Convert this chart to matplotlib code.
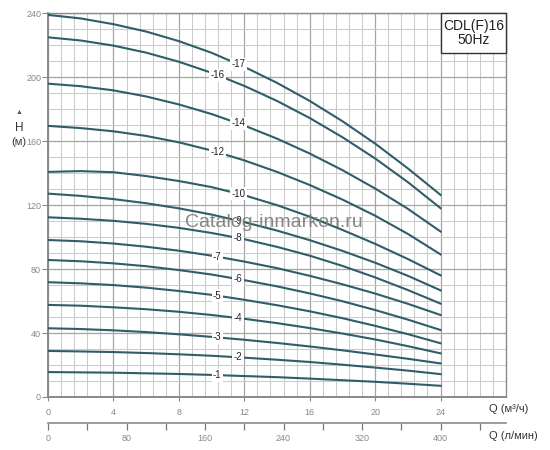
import numpy as np
import matplotlib
matplotlib.use("Agg")
import matplotlib.pyplot as plt
from matplotlib.ticker import MultipleLocator
from matplotlib.patches import Rectangle

plt.rcParams['font.family'] = ['Liberation Sans', 'DejaVu Sans']

# flow points (m3/h) where the curves were read
q = [0, 2, 4, 6, 8, 10, 12, 14, 16, 18, 20, 22, 24]

# head (m) per number of stages
h1 = [15.6, 15.4, 15.2, 14.8, 14.4, 13.8, 13.1, 12.4, 11.5, 10.5, 9.5, 8.3, 7.0]
h2 = [28.8, 28.5, 28.1, 27.5, 26.7, 25.8, 24.6, 23.3, 21.9, 20.2, 18.4, 16.5, 14.3]
h3 = [43.0, 42.5, 41.7, 40.6, 39.2, 37.6, 35.8, 33.8, 31.6, 29.2, 26.6, 23.9, 21.0]
h4 = [57.6, 57.1, 56.1, 54.9, 53.3, 51.3, 48.9, 46.2, 43.1, 39.7, 36.0, 31.8, 27.3]
h5 = [71.8, 71.1, 70.0, 68.4, 66.3, 63.9, 60.8, 57.4, 53.6, 49.3, 44.5, 39.3, 33.6]
h6 = [85.7, 84.9, 83.6, 81.8, 79.4, 76.6, 73.1, 69.2, 64.8, 59.9, 54.4, 48.4, 41.9]
h7 = [98.2, 97.4, 96.0, 94.0, 91.5, 88.4, 84.7, 80.6, 75.8, 70.5, 64.7, 58.3, 51.3]
h8 = [112.4, 111.5, 110.2, 108.3, 105.8, 102.6, 98.7, 93.9, 88.4, 82.0, 74.8, 66.9, 58.4]
h9 = [127.2, 125.8, 123.8, 121.2, 118.0, 114.1, 109.4, 104.1, 98.1, 91.4, 84.0, 75.8, 66.7]
h10 = [140.8, 141.3, 140.6, 138.2, 135.1, 131.3, 126.2, 120.0, 112.8, 104.5, 95.8, 86.3, 76.1]
h12 = [169.6, 168.2, 166.2, 163.3, 159.3, 154.2, 148.0, 140.8, 132.6, 123.5, 113.4, 102.0, 89.2]
h14 = [196.0, 194.4, 191.8, 188.0, 183.0, 177.0, 169.8, 161.6, 152.3, 141.9, 130.4, 117.7, 103.5]
h16 = [225.0, 223.0, 219.8, 215.4, 209.7, 202.8, 194.6, 185.2, 174.5, 162.5, 149.2, 134.4, 118.1]
h17 = [239.0, 236.8, 233.2, 228.6, 222.6, 215.3, 206.5, 196.5, 185.2, 172.5, 158.5, 143.0, 126.4]

stages = [1, 2, 3, 4, 5, 6, 7, 8, 9, 10, 12, 14, 16, 17]
heads = [h1, h2, h3, h4, h5, h6, h7, h8, h9, h10, h12, h14, h16, h17]
label_x = [10.35, 11.63, 10.35, 11.63, 10.35, 11.63, 10.35, 11.63, 11.63, 11.63,
           10.35, 11.63, 10.35, 11.63]

x_ticks = [0, 4, 8, 12, 16, 20, 24]
y_ticks = [0, 40, 80, 120, 160, 200, 240]
lmin_ticks = list(range(0, 441, 40))
lmin_labels = [str(t) if t % 80 == 0 and t <= 400 else "" for t in lmin_ticks]

line_color = '#2f5d69'
grid_minor = '#cbcbcb'
grid_major = '#a5a5a5'

fig = plt.figure(figsize=(5.5, 4.5), dpi=100)
ax = fig.add_axes([0.0873, 0.1178, 0.8327, 0.8526])

ax.set_xlim(0, 28)
ax.set_ylim(0, 240)
ax.xaxis.set_minor_locator(MultipleLocator(0.8))
ax.yaxis.set_minor_locator(MultipleLocator(10))
ax.set_xticks(x_ticks)
ax.set_yticks(y_ticks)
ax.grid(which='minor', color=grid_minor, lw=0.75)
ax.grid(which='major', color=grid_major, lw=0.9)
ax.set_axisbelow(True)
ax.tick_params(which='minor', length=0)
ax.tick_params(axis='both', which='major', labelsize=6.5, labelcolor='#888888',
               color='#888888', width=0.8)
ax.tick_params(axis='x', length=3, pad=5)
ax.tick_params(axis='y', length=4, pad=1)
for s in ax.spines.values():
    s.set_color('#8a8a8a')
    s.set_linewidth(1.0)
ax.spines['bottom'].set_linewidth(1.4)
ax.spines['left'].set_linewidth(1.4)

for n, h, lx in zip(stages, heads, label_x):
    ax.plot(q, h, color=line_color, lw=1.5, zorder=3, solid_joinstyle='round')
    ly = np.interp(lx, q, h)
    ax.text(lx, ly, "-" + str(n), fontsize=7, color='#222222', ha='center', va='center',
            zorder=4, bbox=dict(boxstyle='square,pad=0.15', fc='white', ec='none'))

# model box
ax.add_patch(Rectangle((0.858, 0.897), 0.142, 0.103, transform=ax.transAxes,
                       facecolor='white', edgecolor='#333333', lw=1.0, zorder=5,
                       clip_on=False))
ax.text(0.929, 0.9485, "CDL(F)16\n50Hz", transform=ax.transAxes, fontsize=10,
        ha='center', va='center', color='#222222', linespacing=1.05, zorder=6)

# watermark
ax.text(0.494, 0.455, "Catalog-inmarkon.ru", transform=ax.transAxes, fontsize=14,
        color='#7a7a7a', alpha=0.9, ha='center', va='center', zorder=7)

# second flow axis in l/min
sec = ax.secondary_xaxis(-0.067, functions=(lambda x: x * 1000 / 60,
                                            lambda x: x * 60 / 1000))
sec.set_xticks(lmin_ticks, labels=lmin_labels)
sec.tick_params(length=5, width=0.9, color='#777777', labelsize=6.5,
                labelcolor='#888888', pad=3)
sec.spines['bottom'].set_color('#8a8a8a')
sec.spines['bottom'].set_linewidth(1.2)

fig.text(489 / 550, 1 - 409 / 450, "Q (м³/ч)", fontsize=8, color='#333333',
         ha='left', va='center')
fig.text(489 / 550, 1 - 436 / 450, "Q (л/мин)", fontsize=8, color='#333333',
         ha='left', va='center')
fig.text(19 / 550, 1 - 112 / 450, "▲", fontsize=5, color='#555555',
         ha='center', va='center')
fig.text(19 / 550, 1 - 128 / 450, "H", fontsize=8.5, color='#333333',
         ha='center', va='center')
fig.text(19 / 550, 1 - 142 / 450, "(м)", fontsize=8, color='#333333',
         ha='center', va='center')

fig.savefig("out.png", dpi=100)
